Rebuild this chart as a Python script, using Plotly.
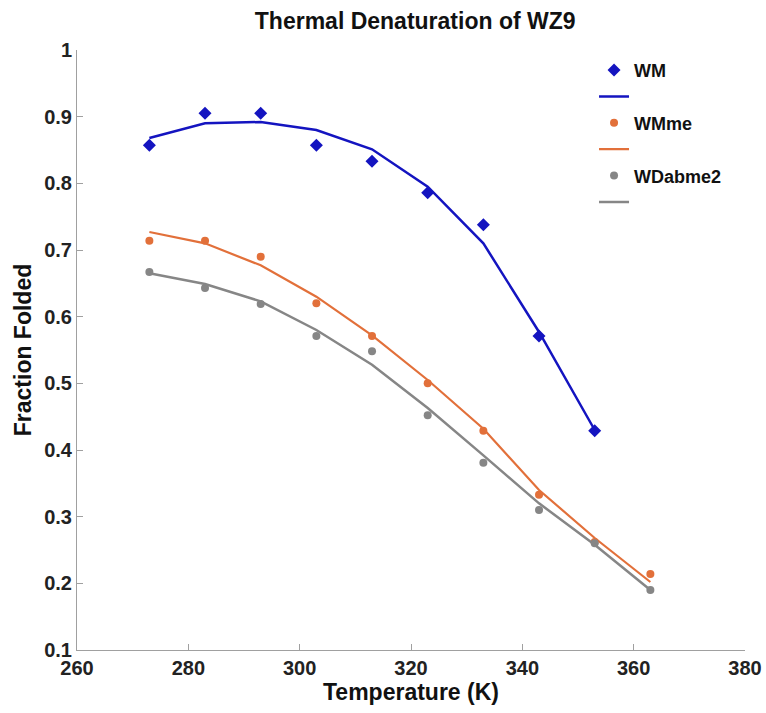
import plotly.graph_objects as go

temps = [273, 283, 293, 303, 313, 323, 333, 343, 353, 363]

wm_data = [0.857, 0.905, 0.905, 0.857, 0.833, 0.786, 0.738, 0.571, 0.429]
wm_fit = [0.868, 0.890, 0.892, 0.880, 0.851, 0.795, 0.710, 0.577, 0.430]

wmme_data = [0.714, 0.714, 0.690, 0.620, 0.571, 0.500, 0.429, 0.333, 0.262, 0.214]
wmme_fit = [0.727, 0.710, 0.677, 0.630, 0.572, 0.505, 0.432, 0.340, 0.268, 0.202]

wd_data = [0.667, 0.643, 0.619, 0.571, 0.548, 0.452, 0.381, 0.310, 0.260, 0.190]
wd_fit = [0.665, 0.649, 0.623, 0.580, 0.528, 0.463, 0.392, 0.320, 0.258, 0.190]

x_ticks = [260, 280, 300, 320, 340, 360, 380]
y_ticks = [0.1, 0.2, 0.3, 0.4, 0.5, 0.6, 0.7, 0.8, 0.9, 1]
y_tick_text = ["0.1", "0.2", "0.3", "0.4", "0.5", "0.6", "0.7", "0.8", "0.9", "1"]

BLUE = "#1414C0"
ORANGE = "#E2703A"
GRAY = "#868686"
FONT = "Liberation Sans, Arial, sans-serif"

fig = go.Figure()
fig.add_trace(go.Scatter(x=temps[:len(wm_data)], y=wm_data, mode="markers", name="<b>WM</b>",
                         marker=dict(symbol="diamond", size=10, color=BLUE)))
fig.add_trace(go.Scatter(x=temps[:len(wm_fit)], y=wm_fit, mode="lines", name=" ",
                         line=dict(color=BLUE, width=2.5)))
fig.add_trace(go.Scatter(x=temps, y=wmme_data, mode="markers", name="<b>WMme</b>",
                         marker=dict(symbol="circle", size=8, color=ORANGE)))
fig.add_trace(go.Scatter(x=temps, y=wmme_fit, mode="lines", name="  ",
                         line=dict(color=ORANGE, width=2.2)))
fig.add_trace(go.Scatter(x=temps, y=wd_data, mode="markers", name="<b>WDabme2</b>",
                         marker=dict(symbol="circle", size=8, color=GRAY)))
fig.add_trace(go.Scatter(x=temps, y=wd_fit, mode="lines", name="   ",
                         line=dict(color=GRAY, width=2.5)))

axis_common = dict(
    showgrid=False, zeroline=False, showline=True, linecolor="#A0A0A0", linewidth=1,
    ticks="inside", ticklen=6, tickcolor="#A0A0A0", automargin=False,
    ticklabeloverflow="allow",
    tickfont=dict(family=FONT, size=20, color="#222222"),
)

fig.update_layout(
    width=766, height=713,
    margin=dict(l=77, r=21, t=50, b=63),
    paper_bgcolor="white", plot_bgcolor="white",
    font=dict(family=FONT, color="#111111"),
    title=dict(text="<b>Thermal Denaturation of WZ9</b>", x=0.542, xanchor="center",
               y=0.970, yanchor="middle",
               font=dict(size=23, color="#111111")),
    xaxis=dict(range=[260, 380], tickvals=x_ticks,
               ticktext=[f"<b>{t}</b>" for t in x_ticks],
               title=dict(text="<b>Temperature (K)</b>", font=dict(size=23), standoff=4),
               **axis_common),
    yaxis=dict(range=[0.1, 1], tickvals=y_ticks,
               ticktext=[f"<b>{t}</b>" for t in y_tick_text],
               title=dict(text="<b>Fraction Folded</b>", font=dict(size=23), standoff=6),
               **axis_common),
    legend=dict(x=0.774, y=0.997, xanchor="left", yanchor="top",
                bgcolor="rgba(0,0,0,0)", borderwidth=0,
                font=dict(size=18, color="#111111"), itemwidth=30),
    showlegend=True,
)

fig.write_html("out.html",
               config={"displayModeBar": False},
               post_script="document.body.style.margin='0';document.body.style.overflow='hidden';")
